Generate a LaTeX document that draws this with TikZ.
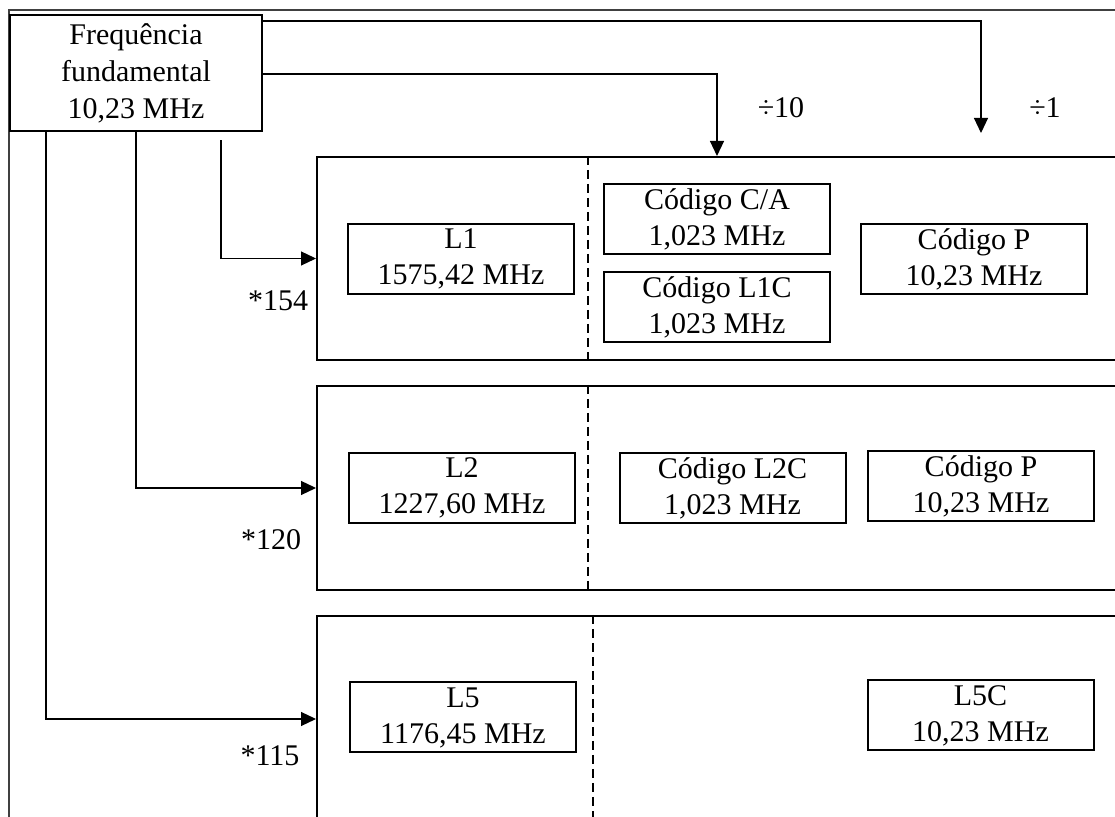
\documentclass[tikz,border=0pt]{standalone}
\usepackage{fontspec}
\setmainfont{Liberation Serif}
\usetikzlibrary{arrows.meta}
\tikzset{
  cell/.style={draw, line width=1pt, minimum width=113pt, minimum height=35pt,
    inner sep=0pt, align=center},
  band/.style={draw, line width=1pt, minimum width=406.5pt, inner sep=0pt},
  conn/.style={line width=0.6pt},
  arr/.style={conn, -{Triangle[length=7.5pt,width=7pt]}},
  sepline/.style={line width=1pt, dash pattern=on 4.5pt off 2.5pt},
}

\begin{document}
\begin{tikzpicture}[x=0.5pt, y=-0.5pt, font=\fontsize{15}{18}\selectfont]
    \useasboundingbox (0,0) rectangle (1115,817);
    \clip (0,0) rectangle (1115,817);
    % outer frame
    \draw[line width=0.6pt, black!75] (9,830) -- (9,10) -- (1130,10);

    % signal bands
    \node[band, minimum height=101.5pt] (f1) at (723.5,258.5) {};
    \node[band, minimum height=102pt] (f2) at (723.5,488) {};
    \node[band, minimum height=103pt] (f3) at (723.5,719) {};
    \coordinate (sep1) at (588,0);
    \coordinate (sep3) at (593,0);
    \draw[sepline] (f1.north -| sep1) -- (f1.south -| sep1);
    \draw[sepline] (f2.north -| sep1) -- (f2.south -| sep1);
    \draw[sepline] (f3.north -| sep3) -- (f3.south -| sep3);

    \node[draw, line width=1.2pt, minimum width=126pt, minimum height=58pt,
      align=center, inner sep=0pt, font=\fontsize{15}{18.5}\selectfont]
      (freq) at (136,73) {Frequência\\fundamental\\10,23 MHz};

    % L1
    \node[cell] (l1) at (461,259) {L1\\1575,42 MHz};
    \node[cell] (ca) at (717,219) {Código C/A\\1,023 MHz};
    \node[cell] (l1c) at (717,307.5) {Código L1C\\1,023 MHz};
    \node[cell] (p1) at (974,259) {Código P\\10,23 MHz};
    % L2
    \node[cell] (l2) at (462,488) {L2\\1227,60 MHz};
    \node[cell] (l2c) at (732.5,488) {Código L2C\\1,023 MHz};
    \node[cell] (p2) at (981,486) {Código P\\10,23 MHz};
    % L5
    \node[cell] (l5) at (463,717.5) {L5\\1176,45 MHz};
    \node[cell] (l5c) at (980.5,715.5) {L5C\\10,23 MHz};

    % connectors
    \coordinate (d1) at (981,133);
    \coordinate (d10) at (717,0);
    \draw[arr] ([yshift=26pt]freq.east) -| (d1);
    \draw[arr] ([yshift=-0.5pt]freq.east) -| (f1.north -| d10);
    \draw[arr] ([xshift=42.5pt,yshift=-4pt]freq.south) |- (f1.west);
    \draw[arr] (freq.south) |- (f2.west);
    \draw[arr] ([xshift=-45pt]freq.south) |- (f3.west);

    \node (div10) at (781,108) {÷10};
    \node (div1) at (1045,108) {÷1};
    \node (m154) at (278,301) {*154};
    \node (m120) at (271,540) {*120};
    \node (m115) at (270,756) {*115};
\end{tikzpicture}
\end{document}
